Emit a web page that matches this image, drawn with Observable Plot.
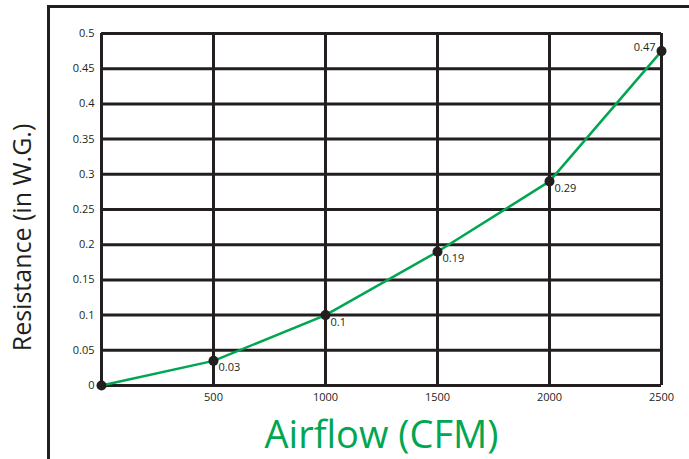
<!DOCTYPE html>
<html><head><meta charset="utf-8">
<script src="https://cdn.jsdelivr.net/npm/d3@7"></script>
<script src="https://cdn.jsdelivr.net/npm/@observablehq/plot@0.6"></script>
<style>
html,body{margin:0;padding:0;background:#fff;}
#wrap{position:relative;width:689px;height:459px;overflow:hidden;}
#deco{position:absolute;left:47px;top:5px;right:0;bottom:0;border-left:3px solid #231f20;border-top:3px solid #231f20;}
#wrap svg{position:absolute;left:0;top:0;}
</style></head>
<body><div id="wrap"><div id="deco"></div></div>
<script>
const airflow = [0, 500, 1000, 1500, 2000, 2500];
const resistance = [0, 0.035, 0.1, 0.19, 0.29, 0.475];
const pointLabels = ["", "0.03", "0.1", "0.19", "0.29", "0.47"];
const xTicks = [500, 1000, 1500, 2000, 2500];
const yTicks = [0, 0.05, 0.1, 0.15, 0.2, 0.25, 0.3, 0.35, 0.4, 0.45, 0.5];
const xGrid = [0, 500, 1000, 1500, 2000, 2500];

const data = airflow.map((x, i) => ({x, y: resistance[i], label: pointLabels[i]}));
const ink = "#231f20";
const green = "#00a651";

const chart = Plot.plot({
  width: 689, height: 459,
  marginLeft: 101, marginRight: 28, marginTop: 33, marginBottom: 74,
  style: {fontFamily: "'Open Sans', sans-serif", fontSize: "11px", color: ink, background: "transparent"},
  x: {domain: [0, 2500]},
  y: {domain: [0, 0.5]},
  marks: [
    Plot.ruleY(yTicks, {stroke: ink, strokeWidth: 3}),
    Plot.ruleX(xGrid, {stroke: ink, strokeWidth: 3}),
    Plot.axisY(yTicks, {tickSize: 0, tickPadding: 7, tickFormat: d => String(d), fill: ink, label: null, fontSize: 11}),
    Plot.axisX(xTicks, {tickSize: 0, tickPadding: 8, tickFormat: d => String(d), fill: ink, label: null, fontSize: 11}),
    Plot.line(data, {x: "x", y: "y", stroke: green, strokeWidth: 2.5, curve: "linear"}),
    Plot.dot(data, {x: "x", y: "y", r: 5, fill: ink}),
    Plot.text(data.filter(d => d.label && d.x < 2500), {x: "x", y: "y", text: "label", dx: 5, dy: 7, textAnchor: "start", fill: ink, fontSize: 11}),
    Plot.text(data.filter(d => d.x === 2500), {x: "x", y: "y", text: "label", dx: -6, dy: -4, textAnchor: "end", fill: ink, fontSize: 11}),
    Plot.text(["Airflow (CFM)"], {frameAnchor: "bottom", dy: 62, text: d => d, fill: green, fontSize: 38, fontFamily: "'Open Sans', sans-serif"}),
    Plot.text(["Resistance (in W.G.)"], {frameAnchor: "left", textAnchor: "middle", dx: -79, dy: 28, rotate: -90, text: d => d, fill: ink, fontSize: 25, fontFamily: "'Open Sans', sans-serif"})
  ]
});
document.getElementById("wrap").appendChild(chart);
</script></body></html>
